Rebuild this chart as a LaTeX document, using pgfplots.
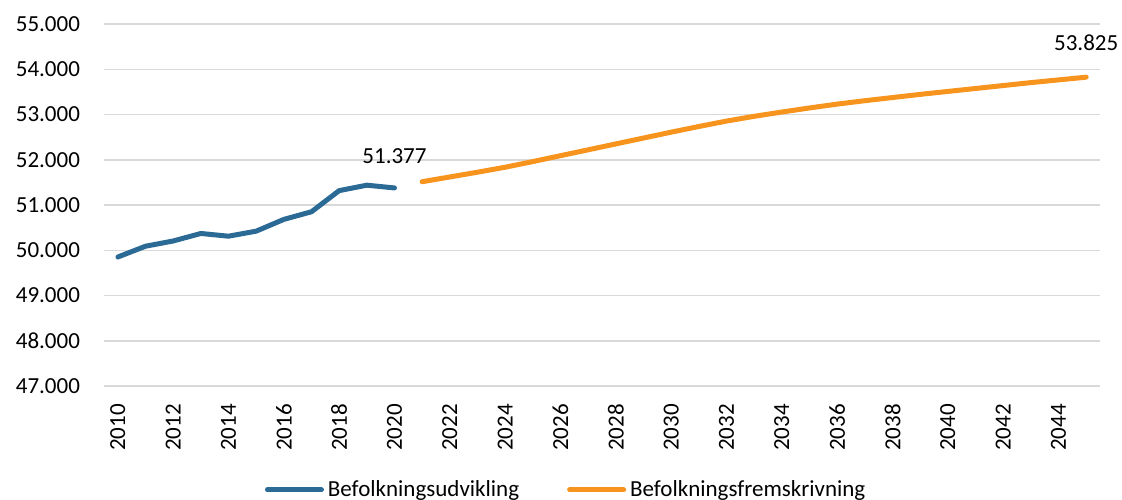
\documentclass[border=0pt]{standalone}
\usepackage{fontspec}
\setmainfont{Carlito}
\usepackage{pgfplots}
\pgfplotsset{compat=1.18}
\definecolor{histblue}{RGB}{44,106,150}
\definecolor{projorange}{RGB}{247,148,30}
\definecolor{gridgray}{RGB}{217,217,217}
\begin{document}
\fontsize{11.5}{13.8}\selectfont
\begin{tikzpicture}
\begin{axis}[
    name=ax,
    scale only axis,
    width=498pt, height=181pt,
    xmin=2009.5, xmax=2045.5,
    ymin=47000, ymax=55000,
    xtick={2010,2012,...,2044},
    ytick={47000,48000,...,55000},
    scaled ticks=false,
    axis line style={draw=none},
    major tick length=0pt,
    ymajorgrids,
    grid style={gridgray, line width=0.75pt},
    /pgf/number format/assume math mode=true,
    y tick label style={/pgf/number format/.cd, fixed, precision=0, 1000 sep={.}},
    x tick label style={rotate=90, anchor=east, /pgf/number format/1000 sep={}},
    xticklabel shift=5pt,
    yticklabel shift=8pt,
    tick label style={font=\fontsize{11.5}{13.8}\selectfont},
    legend columns=-1,
    legend style={draw=none, at={(0.465,-0.287)}, anchor=center,
        font=\fontsize{11.5}{13.8}\selectfont,
        /tikz/every even column/.append style={column sep=22pt}},
    legend image code/.code={\draw[#1, line cap=round] (0pt,0pt) -- (27pt,0pt);},
    clip=false,
]
% Befolkningsudvikling
\addplot[histblue, line width=2.5pt, line join=round, line cap=round] coordinates {
    (2010,49851) (2011,50089) (2012,50205) (2013,50371) (2014,50311)
    (2015,50422) (2016,50682) (2017,50851) (2018,51318) (2019,51438) (2020,51377)};
\addlegendentry{Befolkningsudvikling}
% Befolkningsfremskrivning
\addplot[projorange, line width=2.5pt, line join=round, line cap=round] coordinates {
    (2021,51515) (2022,51620) (2023,51725) (2024,51835) (2025,51960)
    (2026,52090) (2027,52220) (2028,52350) (2029,52480) (2030,52610)
    (2031,52735) (2032,52855) (2033,52960) (2034,53055) (2035,53145)
    (2036,53230) (2037,53305) (2038,53375) (2039,53445) (2040,53510)
    (2041,53575) (2042,53640) (2043,53705) (2044,53765) (2045,53825)};
\addlegendentry{Befolkningsfremskrivning}
\node[above, yshift=8pt] at (axis cs:2020,51377) {51.377};
\node[above, yshift=9pt] at (axis cs:2045,53825) {53.825};
\end{axis}
\pgfresetboundingbox
\useasboundingbox ([shift={(-52pt,-56.5pt)}]ax.south west) rectangle ([shift={(509pt,193pt)}]ax.south west);
\end{tikzpicture}
\end{document}
